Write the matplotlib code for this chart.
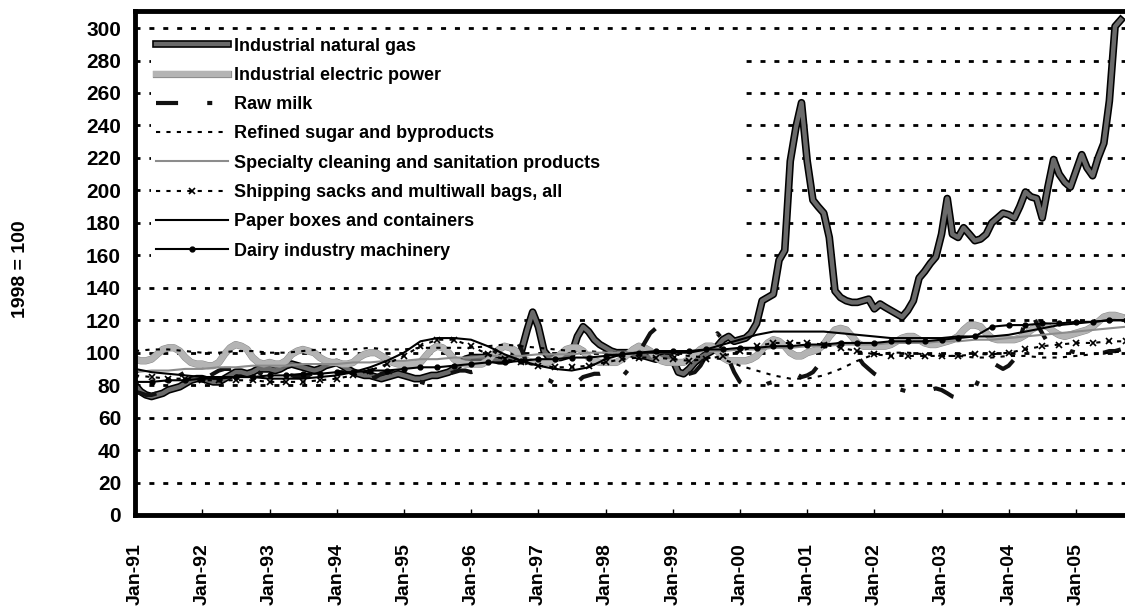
import numpy as np
import matplotlib
matplotlib.use("Agg")
import matplotlib.pyplot as plt
import matplotlib.patheffects as pe
import datetime as dt

plt.rcParams['font.family'] = ['Liberation Sans', 'DejaVu Sans']
plt.rcParams['font.weight'] = 'bold'

# monthly series, Jan-91 .. Sep-05
meses = np.arange('1991-01', '2005-10', dtype='datetime64[M]').astype('datetime64[D]')
# quarterly series, Jan-91 .. Oct-05
trimestres = np.arange('1991-01', '2006-01', 3, dtype='datetime64[M]').astype('datetime64[D]')

gas_natural = [
    80, 76, 74, 73, 74, 75, 77, 78, 79, 81, 83, 84,
    84, 83, 82, 82, 84, 86, 88, 88, 87, 88, 90, 90,
    90, 89, 90, 92, 93, 92, 91, 90, 89, 90, 92, 93,
    94, 92, 90, 88, 87, 86, 86, 85, 84, 85, 86, 87,
    86, 85, 84, 84, 85, 86, 86, 87, 88, 90, 93, 96,
    97, 97, 97, 96, 96, 95, 95, 96, 98, 101, 114, 125,
    116, 101, 97, 97, 97, 98, 99, 110, 116, 113, 108, 105,
    103, 101, 100, 100, 100, 99, 98, 98, 97, 96, 97, 98,
    96, 88, 87, 90, 94, 97, 99, 101, 104, 108, 110, 107,
    108, 109, 112, 118, 132, 134, 136, 157, 163, 218, 239, 254,
    218, 194, 190, 186, 171, 138, 134, 132, 131, 131, 132, 133,
    127, 130, 128, 126, 124, 122, 126, 132, 146, 150, 155, 159,
    173, 195, 173, 171, 177, 173, 169, 170, 173, 180, 183, 186,
    185, 183, 190, 199, 196, 195, 183, 202, 219, 210, 205, 202,
    212, 222, 214, 209, 220, 229, 255, 301, 305]

electricidad = [
    96, 95, 95, 96, 99, 102, 103, 103, 101, 97, 94, 93,
    93, 92, 92, 94, 99, 103, 105, 104, 102, 97, 94, 93,
    94, 93, 93, 95, 99, 101, 102, 101, 100, 97, 95, 94,
    94, 93, 93, 94, 97, 99, 100, 100, 98, 96, 94, 93,
    93, 93, 93, 94, 98, 102, 104, 103, 100, 96, 94, 93,
    93, 93, 93, 95, 99, 102, 104, 103, 101, 97, 95, 94,
    94, 94, 94, 96, 99, 102, 103, 103, 101, 97, 95, 94,
    94, 94, 94, 96, 99, 102, 104, 103, 101, 97, 95, 94,
    94, 94, 94, 96, 99, 102, 104, 104, 101, 97, 95, 95,
    95, 95, 96, 98, 102, 106, 108, 107, 104, 100, 98, 98,
    100, 101, 102, 105, 110, 114, 115, 114, 110, 106, 104, 104,
    104, 104, 104, 105, 107, 109, 110, 110, 108, 106, 105, 105,
    106, 107, 108, 110, 114, 117, 117, 116, 112, 109, 108, 108,
    108, 108, 109, 111, 114, 116, 117, 116, 113, 111, 110, 111,
    112, 113, 114, 116, 119, 122, 123, 123, 122]

leche = [
    76, 75, 74, 74, 75, 77, 80, 83, 86, 88, 89, 88,
    86, 85, 87, 89, 90, 90, 91, 92, 92, 90, 88, 86,
    85, 84, 85, 86, 86, 85, 85, 86, 88, 90, 89, 88,
    88, 88, 87, 86, 85, 84, 84, 85, 87, 88, 88, 86,
    84, 83, 82, 82, 81, 81, 82, 84, 87, 88, 89, 89,
    88, 89, 92, 95, 99, 104, 106, 108, 109, 102, 93, 86,
    84, 84, 83, 81, 80, 79, 80, 82, 85, 86, 87, 87,
    88, 90, 88, 85, 89, 92, 100, 106, 112, 115, 114, 108,
    95, 88, 86, 87, 88, 92, 98, 104, 112, 108, 96, 88,
    82, 80, 78, 77, 79, 81, 82, 83, 84, 86, 87, 85,
    86, 88, 92, 96, 101, 104, 106, 107, 104, 98, 93, 90,
    87, 85, 83, 80, 78, 77, 76, 75, 76, 77, 77, 78,
    77, 75, 73, 72, 72, 73, 78, 86, 93, 94, 92, 90,
    92, 96, 108, 120, 126, 118, 112, 106, 104, 105, 103, 101,
    100, 99, 98, 99, 100, 100, 101, 101, 102]

azucar = [101, 102, 102, 101, 100, 100, 101, 101, 100, 100, 101, 102,
          102, 102, 103, 102, 102, 103, 103, 103, 103, 104, 105, 104,
          103, 102, 101, 101, 100, 100, 100, 100, 99, 98, 97, 96,
          92, 89, 86, 84, 84, 86, 90, 95, 99, 100, 100, 99,
          98, 98, 97, 97, 98, 98, 97, 97, 98, 99, 100, 101]

limpieza = [88, 89, 89, 90, 90, 91, 91, 92, 92, 92, 93, 93,
            93, 94, 94, 95, 95, 96, 96, 97, 97, 98, 98, 98,
            99, 99, 99, 100, 100, 100, 100, 100, 100, 101, 101, 101,
            102, 102, 103, 103, 104, 104, 105, 105, 105, 106, 106, 106,
            107, 107, 108, 108, 109, 110, 111, 112, 113, 114, 115, 116]

sacos = [86, 85, 84, 84, 83, 83, 83, 83, 82, 82, 82, 83,
         84, 86, 89, 93, 98, 104, 108, 108, 104, 99, 96, 94,
         92, 91, 91, 92, 94, 96, 97, 97, 96, 95, 96, 98,
         101, 104, 106, 106, 106, 105, 103, 101, 99, 98, 98, 98,
         98, 98, 99, 99, 100, 102, 104, 105, 106, 106, 107, 107]

cajas = [90, 88, 87, 86, 85, 85, 85, 85, 84, 84, 84, 85,
         86, 88, 91, 95, 100, 107, 109, 109, 108, 104, 99, 95,
         92, 90, 89, 91, 96, 99, 100, 100, 100, 100, 102, 105,
         108, 111, 113, 113, 113, 113, 112, 111, 110, 109, 109, 109,
         109, 110, 110, 110, 111, 113, 115, 117, 118, 119, 120, 120]

maquinaria = [82, 82, 83, 83, 84, 84, 85, 85, 86, 86, 87, 87,
              88, 88, 89, 89, 90, 91, 91, 92, 93, 94, 94, 95,
              96, 96, 97, 97, 98, 99, 100, 101, 101, 101, 102, 102,
              103, 103, 104, 104, 105, 105, 106, 106, 106, 107, 107, 107,
              108, 109, 110, 116, 117, 117, 118, 118, 119, 119, 120, 120]

etiquetas = ['Industrial natural gas', 'Industrial electric power', 'Raw milk',
             'Refined sugar and byproducts',
             'Specialty cleaning and sanitation products',
             'Shipping sacks and multiwall bags, all',
             'Paper boxes and containers', 'Dairy industry machinery']

fig = plt.figure(figsize=(11.25, 6.12), dpi=100)
ax = fig.add_axes([135/1125, 1 - 515/612, 990/1125, 504/612])

ax.plot(meses, gas_natural, color='#6a6a6a', lw=3.2,
        path_effects=[pe.Stroke(linewidth=5.5, foreground='black'), pe.Normal()],
        label=etiquetas[0])
ax.plot(meses, electricidad, color='#b4b4b4', lw=4.5,
        path_effects=[pe.Stroke(linewidth=5.2, foreground='#8a8a8a'), pe.Normal()],
        label=etiquetas[1])
ax.plot(meses, leche, color='#111111', lw=3, linestyle=(0, (5.3, 7, 1.2, 7)),
        label=etiquetas[2])
ax.plot(trimestres, azucar, color='black', lw=1.5, linestyle=(0, (2, 3)),
        label=etiquetas[3])
ax.plot(trimestres, limpieza, color='#8c8c8c', lw=1.5, label=etiquetas[4])
ax.plot(trimestres, sacos, color='black', lw=1.5, linestyle=(0, (2, 3)),
        marker='x', ms=4, mew=1.2, label=etiquetas[5])
ax.plot(trimestres, cajas, color='black', lw=1.5, label=etiquetas[6])
ax.plot(trimestres, maquinaria, color='black', lw=1.5, marker='o', ms=3.5,
        label=etiquetas[7])

ax.set_ylim(0, 310.5)
ax.set_xlim(dt.datetime(1991, 1, 1), dt.datetime(2005, 9, 24))
ax.set_yticks(np.arange(0, 301, 20))
ax.yaxis.grid(True, color='black', lw=2, linestyle=(0, (1.8, 3.2)))
ax.set_axisbelow(True)

anios = [dt.datetime(a, 1, 1) for a in range(1991, 2006)]
ax.set_xticks(anios)
ax.set_xticklabels(['Jan-%02d' % (a % 100) for a in range(1991, 2006)],
                   rotation=90, fontsize=14, fontweight='bold')
ax.tick_params(axis='x', direction='in', length=4, width=1, pad=20)
ax.tick_params(axis='y', length=0, pad=10, labelsize=15)

for s in ['left', 'bottom', 'top']:
    ax.spines[s].set_linewidth(3.5)
ax.spines['right'].set_visible(False)

fig.text(0.018, 0.56, '1998 = 100', rotation=90, ha='center', va='center',
         fontsize=14, fontweight='bold')

# white legend box, wider than its text (hides the grid behind it)
leg = ax.legend(loc='upper left', bbox_to_anchor=(0.016, 0.496, 0.6, 0.462),
                mode='expand', fontsize=13, frameon=True, fancybox=False,
                facecolor='white', edgecolor='none', framealpha=1,
                handlelength=4.0, handletextpad=0.3, labelspacing=0.68,
                borderpad=0.3, borderaxespad=0)

fig.savefig('out.png', dpi=100)
